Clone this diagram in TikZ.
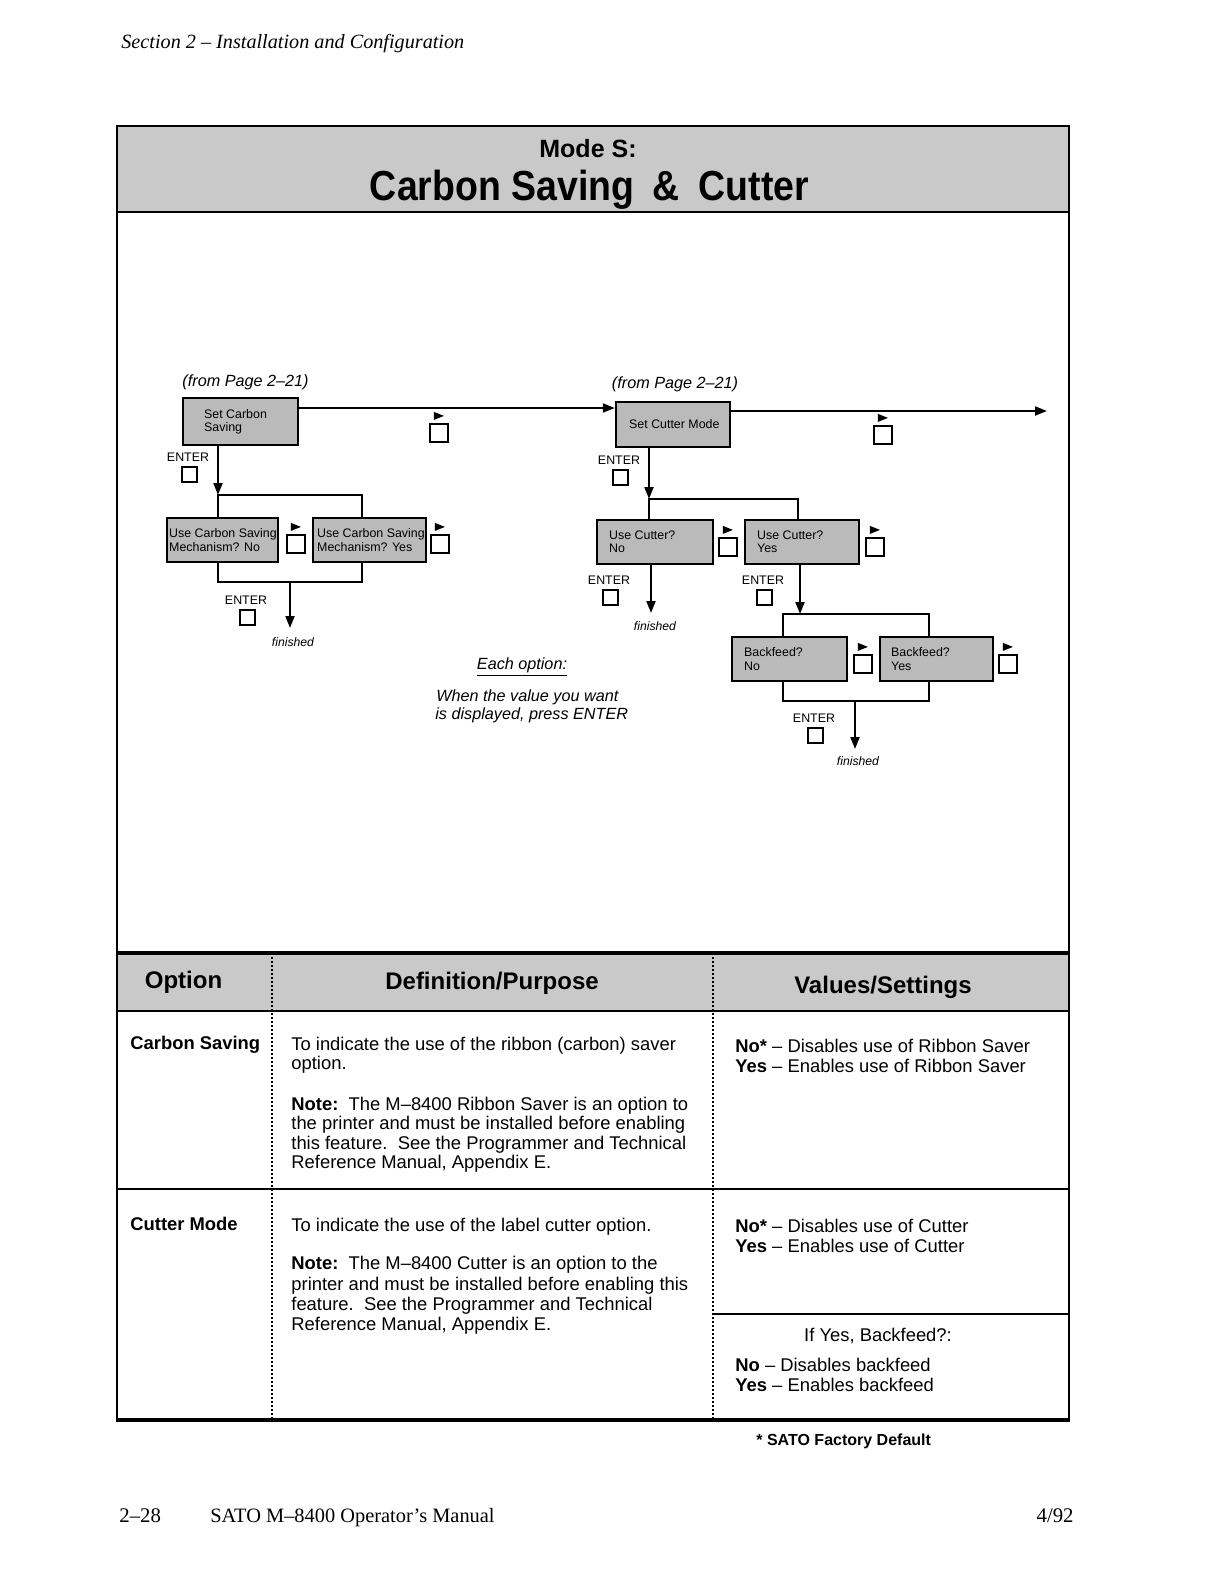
\documentclass[tikz,border=0pt]{standalone}
\usepackage{fontspec}
\setmainfont{Liberation Sans}
\newfontfamily\timesfont{Liberation Serif}
\usetikzlibrary{arrows.meta,calc}
\newcommand\dispbox[7]{%
  \node[dbox, minimum width={(#4-#2)*0.5bp}, minimum height={(#5-#3)*0.5bp}] (#1) at ({(#2+#4)/2},{(#3+#5)/2}) {};
  \node[btxt, anchor=west] (#1t) at ($(#1.west)+(#6,0)$) {#7};
}
\newcommand\advbtn[3]{%
  \node[advsq] (#1) at ({#2+9},{#3+9}) {};
  \fill ($(#1.north west)+(5,-3)$) -- ++(0,-8) -- ++(10,4) -- cycle;
}
\newcommand\enterbtn[3]{%
  \node[entsq] (#1) at ({#2+7.5},{#3+7.5}) {};
  \node[lbl] (#1l) at ({#2+6},{#3-10}) {ENTER};
}
\begin{document}
\begin{tikzpicture}[x=0.5bp,y=-0.5bp,
  dbox/.style={draw, line width=1.2bp, fill=black!27, inner sep=0pt},
  btxt/.style={font=\fontsize{6.2bp}{6.6bp}\selectfont, align=left, inner sep=0pt},
  ln/.style={line width=1bp},
  arr/.style={line width=1bp, -{Triangle[length=6bp,width=4.5bp]}},
  advsq/.style={draw, line width=1.1bp, minimum size=9bp, inner sep=0pt},
  entsq/.style={draw, line width=1bp, minimum size=7.5bp, inner sep=0pt},
  lbl/.style={font=\fontsize{6.2bp}{6.6bp}\selectfont, inner sep=0pt},
  fin/.style={font=\itshape\fontsize{6.1bp}{6.6bp}\selectfont, inner sep=0pt},
  note/.style={font=\itshape\fontsize{8.1bp}{8.6bp}\selectfont, inner sep=0pt},
  tx/.style={anchor=base west, inner sep=0pt, font=\fontsize{9.2bp}{10bp}\selectfont},
  hdr/.style={font=\bfseries\fontsize{12bp}{12bp}\selectfont, inner sep=0pt},
  colline/.style={line width=0.6bp, dash pattern=on 1bp off 1bp}]
\useasboundingbox (0,0) rectangle (1224,1584);

% page header / footer
\node[anchor=base west, inner sep=0pt, font=\timesfont\itshape\fontsize{10.1bp}{10.1bp}\selectfont] (sec) at (121,48) {Section 2 – Installation and Configuration};
\node[anchor=base west, inner sep=0pt, font=\timesfont\fontsize{10.4bp}{10.4bp}\selectfont] (pg) at (119,1522) {2–28};
\node[anchor=base west, inner sep=0pt, font=\timesfont\fontsize{10.2bp}{10.2bp}\selectfont] (man) at (210,1522) {SATO M–8400 Operator’s Manual};
\node[anchor=base east, inner sep=0pt, font=\timesfont\fontsize{10.4bp}{10.4bp}\selectfont] (date) at (1074,1522) {4/92};

% frame
\filldraw[fill=black!21, line width=1.3bp] (117,126) rectangle (1069,212);
\draw[line width=1.2bp] (117,212) -- (117,1420);
\draw[line width=1.2bp] (1069,212) -- (1069,1420);
\filldraw[fill=black!21, line width=1.2bp] (117,953) rectangle (1069,1011);
\draw[line width=1.6bp] (116,953) -- (1070,953);
\draw[colline] (272,953) -- (272,1420);
\draw[colline] (713,953) -- (713,1420);
\draw[line width=0.6bp] (117,1189) -- (1069,1189);
\draw[line width=0.6bp] (713,1314) -- (1069,1314);
\draw[line width=1.6bp] (116,1420) -- (1070,1420);

% title
\node[font=\bfseries\fontsize{12.5bp}{12.5bp}\selectfont, inner sep=0pt] (modes) at (588,149) {Mode S:};
\node[font=\bfseries\fontsize{21bp}{21bp}\selectfont, inner sep=0pt] (title) at (589.5,190) {\resizebox{219.5bp}{\height}{Carbon Saving\hspace{0.5em}\&\hspace{0.5em}Cutter}};

% table header
\node[hdr] (hopt) at (183.5,982) {Option};
\node[hdr] (hdef) at (492,983) {Definition/Purpose};
\node[hdr] (hval) at (883,987) {Values/Settings};

% row 1
\node[tx] (o1) at (130,1049) {\textbf{Carbon Saving}};
\node[tx] (d11) at (291,1050.5) {To indicate the use of the ribbon (carbon) saver};
\node[tx] (d12) at (291,1069) {option.};
\node[tx] (d13) at (291,1110.5) {\textbf{Note:}\ \ The M–8400 Ribbon Saver is an option to};
\node[tx] (d14) at (291,1129.5) {the printer and must be installed before enabling};
\node[tx] (d15) at (291,1149.5) {this feature.\ \ See the Programmer and Technical};
\node[tx] (d16) at (291,1168.5) {Reference Manual, Appendix E.};
\node[tx] (v11) at (735,1052) {\textbf{No*} – Disables use of Ribbon Saver};
\node[tx] (v12) at (735,1072.5) {\textbf{Yes} – Enables use of Ribbon Saver};

% row 2
\node[tx] (o2) at (130,1230) {\textbf{Cutter Mode}};
\node[tx] (d21) at (291,1231.5) {To indicate the use of the label cutter option.};
\node[tx] (d22) at (291,1269.5) {\textbf{Note:}\ \ The M–8400 Cutter is an option to the};
\node[tx] (d23) at (291,1290.5) {printer and must be installed before enabling this};
\node[tx] (d24) at (291,1310.5) {feature.\ \ See the Programmer and Technical};
\node[tx] (d25) at (291,1330.5) {Reference Manual, Appendix E.};
\node[tx] (v21) at (735,1232.5) {\textbf{No*} – Disables use of Cutter};
\node[tx] (v22) at (735,1252.5) {\textbf{Yes} – Enables use of Cutter};
\node[tx, anchor=base] (v23) at (878,1341.5) {If Yes, Backfeed?:};
\node[tx] (v24) at (735,1371.5) {\textbf{No} – Disables backfeed};
\node[tx] (v25) at (735,1391.5) {\textbf{Yes} – Enables backfeed};

\node[anchor=base west, inner sep=0pt, font=\bfseries\fontsize{8bp}{8bp}\selectfont] (fdef) at (756,1445) {* SATO Factory Default};

% flow diagram: labels
\node[note] (from1) at (245.5,382) {(from Page 2–21)};
\node[note] (from2) at (675,384) {(from Page 2–21)};
\node[note] (each) at (522,667) {\underline{Each option:}};
\node[note, anchor=west] (each1) at (436,697) {When the value you want};
\node[note, anchor=west] (each2) at (435,715) {is displayed, press ENTER};

% boxes
\dispbox{b1}{183}{398}{298}{445}{22}{Set Carbon\\Saving}
\dispbox{b2}{616}{402}{730}{447}{14}{Set Cutter Mode}
\dispbox{cs1}{167}{518}{278}{562}{3}{Use Carbon Saving\\Mechanism? No}
\dispbox{cs2}{313}{518}{426}{562}{5}{Use Carbon Saving\\Mechanism? Yes}
\dispbox{cu1}{597}{520}{713}{564}{13}{Use Cutter?\\No}
\dispbox{cu2}{745}{520}{859}{564}{13}{Use Cutter?\\Yes}
\dispbox{bf1}{732}{637}{847}{681}{13}{Backfeed?\\No}
\dispbox{bf2}{880}{637}{993}{681}{12}{Backfeed?\\Yes}

% buttons
\advbtn{a1}{430}{424}
\advbtn{a2}{874}{426}
\advbtn{a3}{287}{535}
\advbtn{a4}{431}{535}
\advbtn{a5}{719}{538}
\advbtn{a6}{866}{538}
\advbtn{a7}{854}{655}
\advbtn{a8}{999}{655}
\enterbtn{e1}{182}{467}
\enterbtn{e2}{240}{610}
\enterbtn{e3}{613}{470}
\enterbtn{e4}{603}{590}
\enterbtn{e5}{757}{590}
\enterbtn{e6}{808}{728}

% connectors
\coordinate (yl1) at (0,408);
\coordinate (yl2) at (0,411);
\coordinate (outend) at (1047,411);
\draw[arr] (b1.east |- yl1) -- (b2.west |- yl1);
\draw[arr] (b2.east |- yl2) -- (outend);

\coordinate (TL1) at (218,495); \coordinate (TR1) at (362,495);
\coordinate (BL1) at (218,582); \coordinate (BR1) at (362,582);
\draw[arr] (b1.south -| TL1) -- (TL1);
\draw[ln] (cs1.north -| TL1) -- (TL1) -- (TR1) -- (cs2.north -| TR1);
\draw[ln] (cs1.south -| BL1) -- (BL1) -- (BR1) -- (cs2.south -| BR1);
\coordinate (F1s) at (290,582); \coordinate (F1e) at (290,628);
\draw[arr] (F1s) -- (F1e);
\node[fin] (fin1) at (293,642) {finished};

\coordinate (TL2) at (649,499); \coordinate (TR2) at (798,499);
\draw[arr] (b2.south -| TL2) -- (TL2);
\draw[ln] (cu1.north -| TL2) -- (TL2) -- (TR2) -- (cu2.north -| TR2);
\coordinate (F2e) at (651,613);
\draw[arr] (cu1.south -| F2e) -- (F2e);
\node[fin] (fin2) at (655,626) {finished};

\coordinate (TL3) at (783,614); \coordinate (TR3) at (929,614); \coordinate (J3) at (800,614);
\draw[arr] (cu2.south -| J3) -- (J3);
\draw[ln] (bf1.north -| TL3) -- (TL3) -- (TR3) -- (bf2.north -| TR3);
\coordinate (BL3) at (783,701); \coordinate (BR3) at (929,701);
\draw[ln] (bf1.south -| BL3) -- (BL3) -- (BR3) -- (bf2.south -| BR3);
\coordinate (F3s) at (855,701); \coordinate (F3e) at (855,749);
\draw[arr] (F3s) -- (F3e);
\node[fin] (fin3) at (858,761) {finished};
\end{tikzpicture}
\end{document}
